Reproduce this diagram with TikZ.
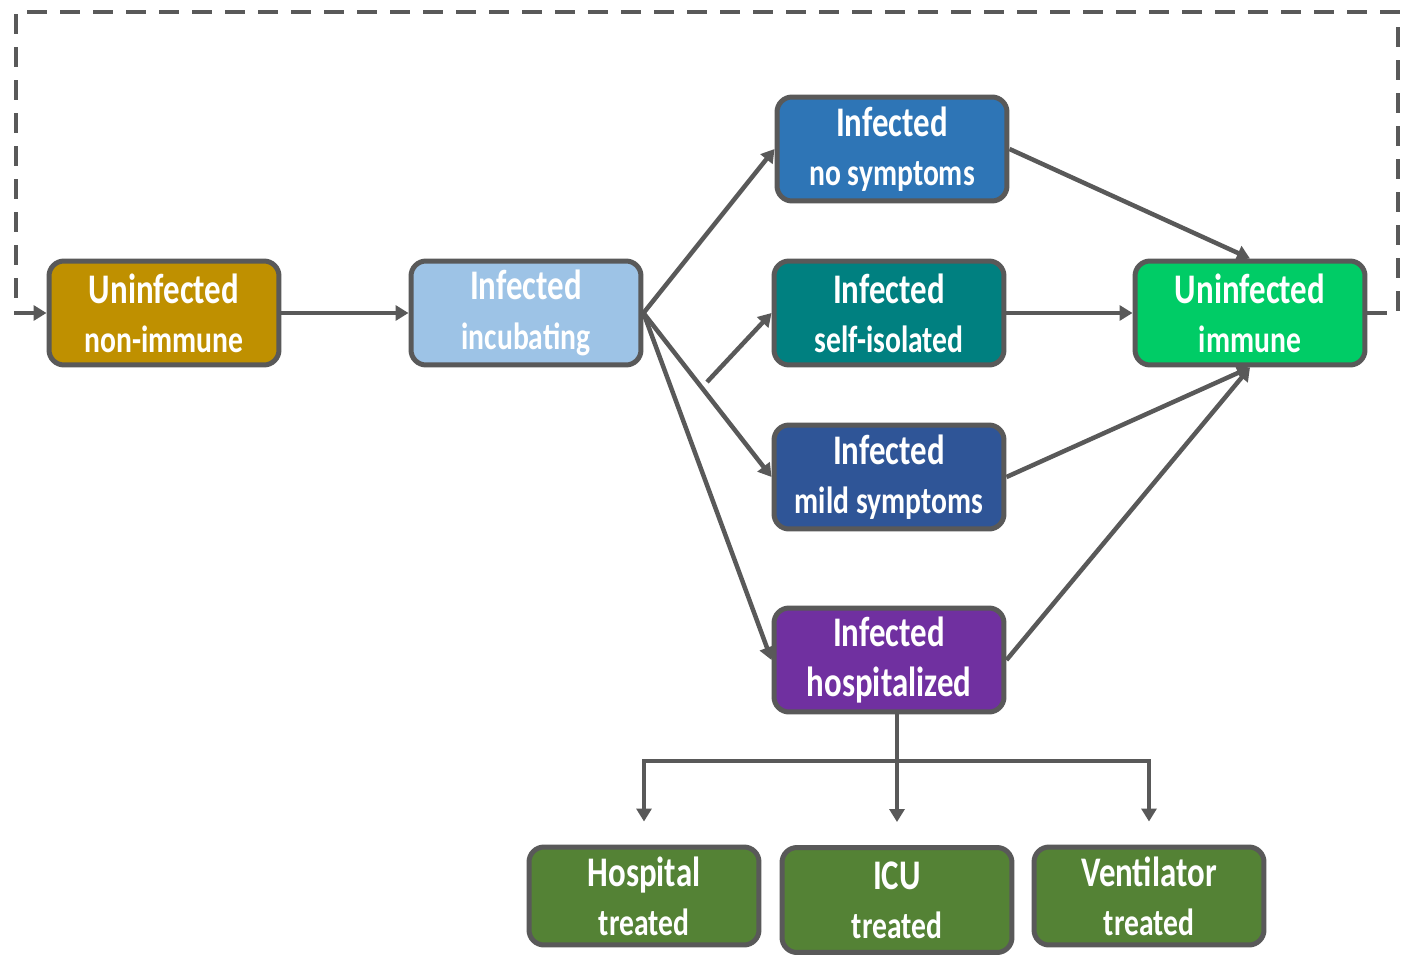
\documentclass[tikz,border=0pt]{standalone}
\usepackage{fontspec}
\setmainfont{Carlito}[FakeStretch=0.78]
\usetikzlibrary{arrows.meta}
\definecolor{edgegray}{HTML}{595959}
\definecolor{goldbox}{HTML}{BF9000}
\definecolor{paleblue}{HTML}{9DC3E6}
\definecolor{midblue}{HTML}{2E75B6}
\definecolor{tealbox}{HTML}{008080}
\definecolor{navybox}{HTML}{2F5597}
\definecolor{purplebox}{HTML}{7030A0}
\definecolor{brightgreen}{HTML}{00CC66}
\definecolor{olivebox}{HTML}{548235}
\tikzset{
	state/.style={draw=edgegray, line width=0.1cm, rounded corners=0.3cm, minimum width=4.6cm, minimum height=2.08cm, text=white, align=center, inner sep=0pt, font=\bfseries\fontsize{24}{28}\selectfont},
	flow/.style={draw=edgegray, line width=0.09cm, -{Triangle[length=0.26cm,width=0.3cm]}},
	loopline/.style={dash pattern=on 0.4cm off 0.26cm},
}
\newcommand{\lowline}{\fontsize{21.6}{28}\selectfont}
\begin{document}
\begin{tikzpicture}[x=0.02cm, y=-0.02cm]
	\useasboundingbox (0,0) rectangle (1413,956);
	\node[state, fill=goldbox] (nonimm) at (164,313) {Uninfected\\{\lowline non-immune}};
	\node[state, fill=paleblue] (incub) at (526,313) {Infected\\{\lowline incubating}};
	\node[state, fill=midblue] (nosympt) at (892,149) {Infected\\{\lowline no symptoms}};
	\node[state, fill=tealbox] (selfiso) at (889,313) {Infected\\{\lowline self-isolated}};
	\node[state, fill=navybox] (mild) at (889,477) {Infected\\{\lowline mild symptoms}};
	\node[state, fill=purplebox] (hosp) at (889,660) {Infected\\hospitalized};
	\node[state, fill=brightgreen] (immune) at (1250,313) {Uninfected\\{\lowline immune}};
	\node[state, fill=olivebox, minimum height=1.96cm] (hosptr) at (644,896) {Hospital\\{\lowline treated}};
	\node[state, fill=olivebox, minimum height=2.1cm] (icu) at (897,900) {ICU\\{\lowline treated}};
	\node[state, fill=olivebox, minimum height=1.96cm] (venttr) at (1149,896) {Ventilator\\{\lowline treated}};
	\coordinate (isostart) at (707,382);
	\coordinate (branch) at (897,761);
	\coordinate (loopr) at (1398,12);
	\coordinate (loopl) at (16,12);

	\draw[flow] (nonimm) -- (incub);
	\draw[flow] (incub.east) -- (nosympt.west);
	\draw[flow] (isostart) -- (selfiso.west);
	\draw[flow] (incub.east) -- (mild.west);
	\draw[flow] (incub.east) -- (hosp.west);
	\draw[flow] (nosympt.east) -- (immune.north);
	\draw[flow] (selfiso) -- (immune);
	\draw[flow] (mild.east) -- (immune.south);
	\draw[flow] (hosp.east) -- (immune.south);
	\draw[flow, shorten >=0.46cm] (hosp.south -| icu.north) -- (icu.north);
	\draw[flow, shorten >=0.46cm] (branch) -| (hosptr.north);
	\draw[flow, shorten >=0.46cm] (branch) -| (venttr.north);
	\draw[flow, loopline] (immune.east) -| (loopr) -- (loopl) |- (nonimm.west);
\end{tikzpicture}
\end{document}
